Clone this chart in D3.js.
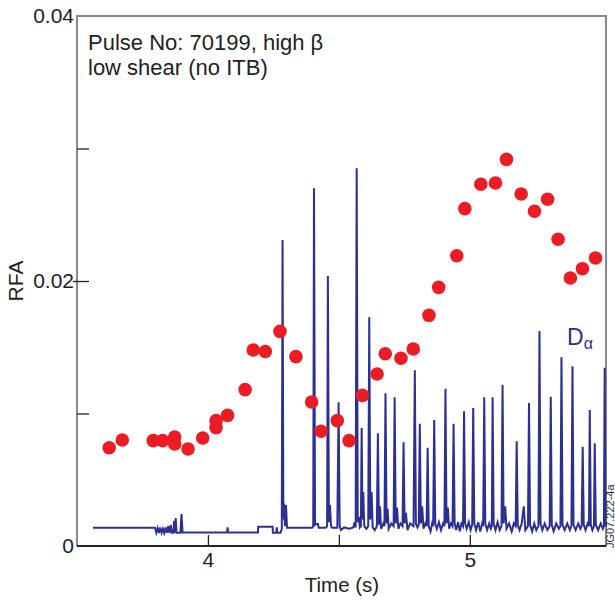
<!DOCTYPE html>
<html>
<head>
<meta charset="utf-8">
<script src="https://cdn.jsdelivr.net/npm/d3@7"></script>
<style>
  body { margin: 0; background: #fff; }
  svg { display: block; font-family: "Liberation Sans", Arial, sans-serif; }
</style>
</head>
<body>
<div id="chart"></div>
<script>
// RFA amplitude (red dots)
var rfaTime = [3.623, 3.673, 3.791, 3.827, 3.873, 3.873, 3.924, 3.980, 4.031, 4.031,
    4.075, 4.142, 4.173, 4.219, 4.275, 4.336, 4.396, 4.432, 4.494, 4.539,
    4.590, 4.646, 4.677, 4.737, 4.784, 4.844, 4.881, 4.950, 4.981, 5.042,
    5.098, 5.140, 5.196, 5.247, 5.297, 5.337, 5.384, 5.430, 5.480];
var rfaValue = [0.00742, 0.00800, 0.00795, 0.00795, 0.00823, 0.00770, 0.00732, 0.00815, 0.00946, 0.00893,
    0.00986, 0.01180, 0.01479, 0.01468, 0.01620, 0.01429, 0.01087, 0.00866, 0.00946, 0.00795,
    0.01137, 0.01298, 0.01451, 0.01417, 0.01487, 0.01741, 0.01952, 0.02191, 0.02546, 0.02730,
    0.02740, 0.02918, 0.02657, 0.02526, 0.02617, 0.02315, 0.02023, 0.02093, 0.02174];

// D-alpha trace (arbitrary units), [time, value]
var dalphaTrace = [
    [3.561, 0.138], [3.790, 0.138], [3.798, 0.138], [3.803, 0.100], [3.808, 0.135], [3.813, 0.098],
    [3.818, 0.140], [3.823, 0.100], [3.828, 0.130], [3.833, 0.098], [3.838, 0.140], [3.843, 0.100],
    [3.848, 0.150], [3.853, 0.100], [3.858, 0.160], [3.862, 0.100], [3.868, 0.100], [3.871, 0.190],
    [3.874, 0.100], [3.877, 0.211], [3.880, 0.100], [3.895, 0.100], [3.899, 0.242], [3.903, 0.102],
    [4.073, 0.102], [4.075, 0.141], [4.077, 0.102], [4.191, 0.102], [4.192, 0.146], [4.247, 0.146],
    [4.248, 0.100], [4.261, 0.100], [4.263, 0.141], [4.265, 0.100], [4.277, 0.100], [4.282, 0.130],
    [4.285, 2.309], [4.288, 0.200], [4.291, 0.320], [4.294, 0.150], [4.298, 0.309], [4.302, 0.138],
    [4.398, 0.138], [4.402, 0.150], [4.405, 2.700], [4.409, 0.160], [4.413, 0.166], [4.420, 0.166],
    [4.423, 0.138], [4.450, 0.138], [4.455, 0.150], [4.458, 2.038], [4.462, 0.180], [4.466, 0.309],
    [4.470, 0.150], [4.474, 0.138], [4.494, 0.138], [4.499, 1.085], [4.503, 0.150], [4.508, 0.120],
    [4.520, 0.140], [4.540, 0.130], [4.555, 0.140], [4.560, 0.180], [4.564, 0.140], [4.568, 2.851],
    [4.572, 0.180], [4.576, 0.220], [4.580, 0.140], [4.584, 0.150], [4.587, 0.891], [4.590, 0.200],
    [4.593, 0.408], [4.597, 0.150], [4.605, 0.130], [4.612, 0.150], [4.616, 1.726], [4.620, 0.200],
    [4.625, 0.408], [4.629, 0.140], [4.637, 0.120], [4.645, 0.150], [4.649, 0.851], [4.653, 0.160],
    [4.657, 0.300], [4.661, 0.130], [4.670, 0.170], [4.674, 0.150], [4.678, 1.152], [4.682, 0.170],
    [4.686, 0.280], [4.690, 0.130], [4.700, 0.170], [4.709, 0.150], [4.713, 1.122], [4.717, 0.170],
    [4.722, 0.290], [4.727, 0.130], [4.735, 0.170], [4.743, 0.150], [4.747, 0.783], [4.751, 0.170],
    [4.756, 0.250], [4.762, 0.120], [4.772, 0.170], [4.785, 0.150], [4.790, 1.326], [4.794, 0.170],
    [4.800, 0.140], [4.805, 0.160], [4.809, 0.923], [4.813, 0.170], [4.818, 0.300], [4.823, 0.130],
    [4.830, 0.170], [4.835, 0.150], [4.839, 0.742], [4.843, 0.150], [4.850, 0.110], [4.856, 0.170],
    [4.860, 0.150], [4.864, 0.951], [4.868, 0.170], [4.874, 0.130], [4.882, 0.180], [4.890, 0.120],
    [4.898, 0.170], [4.903, 0.150], [4.907, 1.187], [4.911, 0.170], [4.916, 0.290], [4.921, 0.130],
    [4.928, 0.170], [4.934, 0.150], [4.938, 0.923], [4.942, 0.170], [4.948, 0.120], [4.955, 0.180],
    [4.962, 0.110], [4.968, 0.170], [4.974, 0.150], [4.978, 1.017], [4.982, 0.170], [4.988, 0.130],
    [4.996, 0.180], [5.003, 0.120], [5.009, 0.160], [5.013, 1.042], [5.017, 0.170], [5.024, 0.120],
    [5.032, 0.180], [5.040, 0.110], [5.047, 0.170], [5.051, 0.150], [5.055, 1.122], [5.059, 0.170],
    [5.066, 0.120], [5.074, 0.170], [5.080, 0.130], [5.084, 0.150], [5.087, 1.122], [5.091, 0.170],
    [5.098, 0.120], [5.106, 0.180], [5.114, 0.120], [5.121, 0.150], [5.125, 1.217], [5.129, 0.170],
    [5.135, 0.300], [5.140, 0.130], [5.150, 0.170], [5.160, 0.110], [5.168, 0.170], [5.175, 0.150],
    [5.179, 0.790], [5.183, 0.160], [5.190, 0.120], [5.198, 0.170], [5.206, 0.300], [5.212, 0.120],
    [5.222, 0.150], [5.226, 1.079], [5.230, 0.160], [5.238, 0.110], [5.246, 0.170], [5.254, 0.120],
    [5.262, 0.150], [5.266, 1.623], [5.270, 0.170], [5.277, 0.120], [5.286, 0.170], [5.296, 0.120],
    [5.305, 0.150], [5.309, 1.127], [5.313, 0.160], [5.320, 0.110], [5.330, 0.170], [5.340, 0.130],
    [5.346, 0.150], [5.350, 1.424], [5.354, 0.160], [5.362, 0.120], [5.372, 0.170], [5.382, 0.120],
    [5.388, 0.150], [5.392, 1.356], [5.396, 0.160], [5.404, 0.120], [5.414, 0.170], [5.422, 0.130],
    [5.427, 0.150], [5.431, 0.749], [5.435, 0.160], [5.442, 0.120], [5.450, 0.170], [5.455, 0.150],
    [5.458, 1.026], [5.462, 0.160], [5.468, 0.120], [5.474, 0.150], [5.477, 0.775], [5.481, 0.160],
    [5.490, 0.120], [5.500, 0.170], [5.508, 0.130], [5.512, 0.150], [5.515, 1.346], [5.518, 0.150]
];

var xTicks = [4, 4.5, 5];
var yTicks = [0, 0.01, 0.02, 0.03, 0.04];
var yLabels = [0, 0.02, 0.04];

var width = 615, height = 603;
var plotLeft = 77, plotRight = 606, plotTop = 16, plotBottom = 546;

var svg = d3.select("#chart").append("svg")
    .attr("width", width)
    .attr("height", height);

var x = d3.scaleLinear().domain([3.5, 5.52]).range([plotLeft, plotRight]);
var y = d3.scaleLinear().domain([0, 0.04]).range([plotBottom, plotTop]);
var yD = d3.scaleLinear().domain([0, 4]).range([plotBottom, plotTop]);

// frame
svg.append("path")
    .attr("d", "M" + plotLeft + "," + plotBottom + "V" + plotTop + "H" + plotRight + "V" + plotBottom)
    .attr("fill", "none")
    .attr("stroke", "#8a8a8a")
    .attr("stroke-width", 2);

// D-alpha trace
var line = d3.line()
    .x(function (d) { return x(d[0]); })
    .y(function (d) { return yD(d[1]); });

svg.append("path")
    .datum(dalphaTrace)
    .attr("d", line)
    .attr("fill", "none")
    .attr("stroke", "#2b3092")
    .attr("stroke-width", 2)
    .attr("stroke-linejoin", "miter");

// RFA dots
svg.append("g").selectAll("circle")
    .data(rfaTime)
    .enter().append("circle")
    .attr("cx", function (d) { return x(d); })
    .attr("cy", function (d, i) { return y(rfaValue[i]); })
    .attr("r", 6.8)
    .attr("fill", "#ec1c24");

// x axis
var xAxis = d3.axisBottom(x)
    .tickValues(xTicks)
    .tickSize(-11)
    .tickPadding(6)
    .tickFormat(function (d) { return d === 4.5 ? "" : d; });

var gx = svg.append("g")
    .attr("transform", "translate(0," + plotBottom + ")")
    .call(xAxis);
gx.select(".domain").attr("stroke", "#222").attr("stroke-width", 2).attr("d", "M" + plotLeft + ",0H" + plotRight);
gx.selectAll(".tick line").attr("stroke", "#222").attr("stroke-width", 1.3);
gx.selectAll("text").attr("font-size", 21).attr("fill", "#222")
    .attr("font-family", "'Liberation Sans', Arial, sans-serif");

// y axis
var yAxis = d3.axisLeft(y)
    .tickValues(yTicks)
    .tickSize(-12)
    .tickPadding(4)
    .tickFormat(function (d) { return yLabels.indexOf(d) >= 0 ? (d === 0 ? "0" : d3.format(".2f")(d)) : ""; });

var gy = svg.append("g")
    .attr("transform", "translate(" + plotLeft + ",0)")
    .call(yAxis);
gy.select(".domain").remove();
gy.selectAll(".tick line")
    .attr("stroke", "#222")
    .attr("stroke-width", 1.3)
    .attr("x1", function (d) { return d === 0.02 ? -4 : 0; })
    .attr("display", function (d) { return d === 0 || d === 0.04 ? "none" : null; });
gy.selectAll("text").attr("font-size", 21).attr("fill", "#222")
    .attr("font-family", "'Liberation Sans', Arial, sans-serif")
    .attr("x", -3);

// axis titles
svg.append("text")
    .attr("x", 342)
    .attr("y", 592)
    .attr("text-anchor", "middle")
    .attr("font-size", 20.5)
    .attr("fill", "#222")
    .text("Time (s)");

svg.append("text")
    .attr("transform", "translate(23," + y(0.02) + ") rotate(-90)")
    .attr("text-anchor", "middle")
    .attr("font-size", 21)
    .attr("fill", "#222")
    .text("RFA");

// annotation
var note = svg.append("text")
    .attr("x", 88)
    .attr("font-size", 22)
    .attr("fill", "#222");
note.append("tspan").attr("x", 88).attr("y", 50).text("Pulse No: 70199, high β");
note.append("tspan").attr("x", 88).attr("y", 75).text("low shear (no ITB)");

// D-alpha label
var dl = svg.append("text")
    .attr("x", 567)
    .attr("y", 345)
    .attr("font-size", 23)
    .attr("fill", "#2b3092");
dl.append("tspan").text("D");
dl.append("tspan").attr("dy", 4).attr("font-size", 16).text("α");

// figure id
svg.append("text")
    .attr("transform", "translate(614,548) rotate(-90)")
    .attr("font-size", 11)
    .attr("fill", "#333")
    .text("JG07.222-4a");
</script>
</body>
</html>
